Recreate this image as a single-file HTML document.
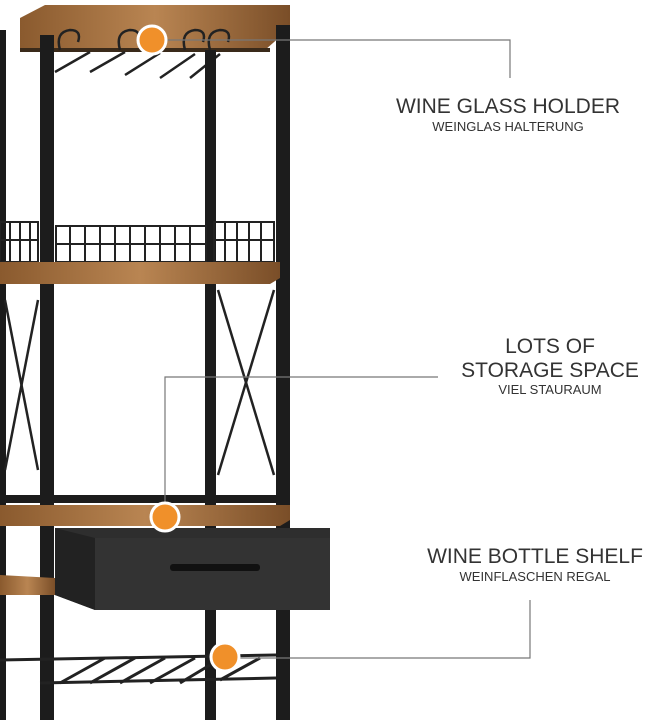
<!DOCTYPE html>
<html><head><meta charset="utf-8"><style>
html,body{margin:0;padding:0;background:#fff;}
svg{display:block;}
text{font-family:"Liberation Sans",sans-serif;fill:#333;}
</style></head><body>
<svg width="648" height="720" viewBox="0 0 648 720" xmlns="http://www.w3.org/2000/svg">
<defs>
<linearGradient id="wood" x1="0" y1="0" x2="1" y2="0">
<stop offset="0" stop-color="#8a5a2e"/><stop offset="0.5" stop-color="#b98552"/><stop offset="1" stop-color="#7a4e28"/>
</linearGradient>
</defs>
<rect width="648" height="720" fill="#fff"/>
<!-- top board -->
<polygon points="20,18 45,5 290,5 290,28 265,50 20,50" fill="url(#wood)"/>
<rect x="20" y="48" width="250" height="4" fill="#3a2a1a"/>
<!-- glass holder scrolls -->
<g stroke="#222" stroke-width="2.5" fill="none">
<path d="M60,50 q-5,-18 10,-20 q12,0 8,12"/><path d="M120,50 q-5,-18 10,-20 q12,0 8,12"/>
<path d="M185,50 q-5,-18 10,-20 q12,0 8,12"/><path d="M210,50 q-5,-18 10,-20 q12,0 8,12"/>
<path d="M55,72 l35,-20 M90,72 l35,-20 M125,75 l35,-22 M160,78 l35,-24 M190,78 l30,-24"/>
</g>
<!-- posts -->
<rect x="0" y="30" width="6" height="690" fill="#1a1a1a"/>
<rect x="40" y="35" width="14" height="685" fill="#1c1c1c"/>
<rect x="205" y="50" width="11" height="670" fill="#1c1c1c"/>
<rect x="276" y="25" width="14" height="695" fill="#1c1c1c"/>
<!-- wire railing -->
<g stroke="#222" stroke-width="2" fill="none">
<rect x="0" y="222" width="38" height="40"/><rect x="56" y="226" width="150" height="36"/><rect x="214" y="222" width="60" height="40"/>
<path d="M10,222v40M20,222v40M30,222v40M70,226v36M85,226v36M100,226v36M115,226v36M130,226v36M145,226v36M160,226v36M175,226v36M190,226v36M225,222v40M237,222v40M249,222v40M261,222v40"/>
<path d="M0,240h38M56,244h150M214,240h60"/>
</g>
<!-- middle shelf -->
<polygon points="0,262 280,262 280,278 270,284 0,284" fill="url(#wood)"/>
<!-- X braces -->
<g stroke="#222" stroke-width="2.5">
<line x1="5" y1="300" x2="38" y2="470"/><line x1="38" y1="300" x2="5" y2="470"/>
<line x1="218" y1="290" x2="274" y2="475"/><line x1="274" y1="290" x2="218" y2="475"/>
</g>
<rect x="0" y="495" width="290" height="8" fill="#1c1c1c"/>
<!-- lower wood shelf -->
<polygon points="0,505 290,505 290,520 280,526 0,526" fill="url(#wood)"/>
<!-- drawer -->
<polygon points="55,528 330,528 330,605 95,610 55,595" fill="#2e2e2e"/>
<polygon points="55,528 95,538 95,610 55,595" fill="#222"/>
<rect x="95" y="538" width="235" height="72" fill="#333"/>
<rect x="170" y="564" width="90" height="7" rx="3" fill="#111"/>
<polygon points="0,575 55,578 55,595 0,595" fill="url(#wood)"/>
<!-- wine rack -->
<g stroke="#222" stroke-width="3" fill="none">
<line x1="0" y1="660" x2="276" y2="655"/><line x1="40" y1="683" x2="276" y2="678"/>
<path d="M60,683 l45,-25 M90,683 l45,-25 M120,683 l45,-25 M150,683 l45,-25 M180,683 l30,-18 M220,680 l40,-22"/>
</g>
<!-- callout lines -->
<g stroke="#777" stroke-width="1.2" fill="none">
<polyline points="152,40 510,40 510,78"/>
<polyline points="438,377 165,377 165,517"/>
<polyline points="530,600 530,658 225,658"/>
</g>
<g fill="#f0902a" stroke="#fff" stroke-width="3">
<circle cx="152" cy="40" r="14"/><circle cx="165" cy="517" r="14"/><circle cx="225" cy="657" r="14"/>
</g>
<!-- labels -->
<g text-anchor="middle">
<text x="508" y="113" font-size="21">WINE GLASS HOLDER</text>
<text x="508" y="131" font-size="13">WEINGLAS HALTERUNG</text>
<text x="550" y="353" font-size="21">LOTS OF</text>
<text x="550" y="377" font-size="21">STORAGE SPACE</text>
<text x="550" y="394" font-size="13">VIEL STAURAUM</text>
<text x="535" y="563" font-size="21">WINE BOTTLE SHELF</text>
<text x="535" y="581" font-size="13">WEINFLASCHEN REGAL</text>
</g>
</svg>
</body></html>
